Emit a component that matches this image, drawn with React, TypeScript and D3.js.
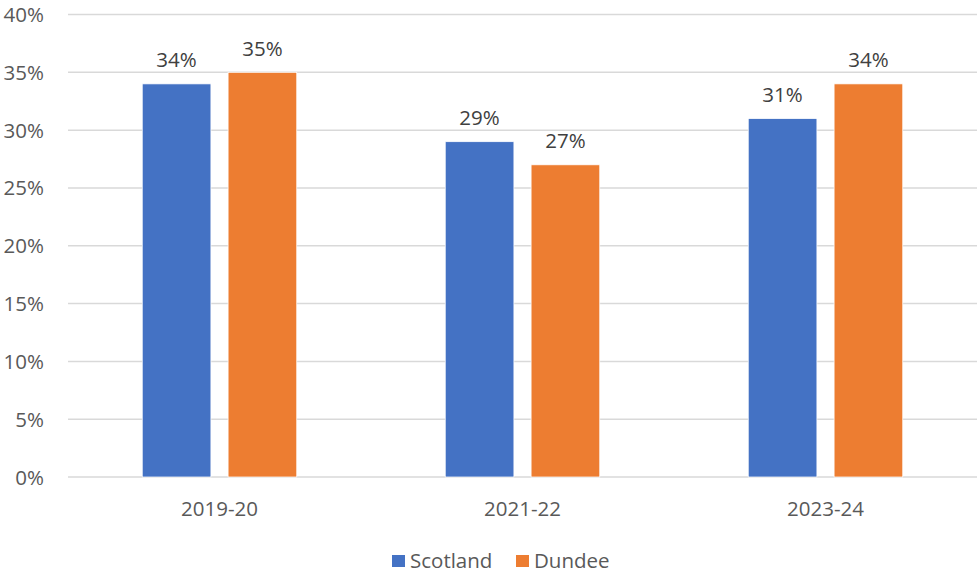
import React from "react";
import * as d3 from "d3";

const categories = ["2019-20", "2021-22", "2023-24"];
const seriesNames = ["Scotland", "Dundee"];
const scotland = [34, 29, 31];
const dundee = [35, 27, 34];
const yTicks = [0, 5, 10, 15, 20, 25, 30, 35, 40];
const colors = ["#4472C4", "#ED7D31"];

const W = 977;
const H = 575;
const left = 68;
const right = 977;
const top = 14.5;
const bottom = 477;
const font = "'Open Sans', 'Liberation Sans', sans-serif";
const fs = 20.5;

export default function App() {
  const x0 = d3.scaleBand<string>().domain(categories).range([left, right]);
  const bw = x0.bandwidth();
  const groupW = bw * 0.51;
  const x1 = d3
    .scaleBand<string>()
    .domain(seriesNames)
    .range([(bw - groupW) / 2, (bw + groupW) / 2])
    .paddingInner(0.2)
    .paddingOuter(0);
  const y = d3.scaleLinear().domain([0, 40]).range([bottom, top]);
  const seriesValues = [scotland, dundee];

  return (
    <svg width={W} height={H} style={{ position: "absolute", left: 0, top: 0, background: "#fff" }}>
      {yTicks.map((t) => (
        <g key={t}>
          <line x1={left} x2={right} y1={y(t)} y2={y(t)} stroke="#d9d9d9" strokeWidth={1.5} />
          <text x={44} y={y(t) + 7.5} textAnchor="end" fontFamily={font} fontSize={fs} fill="#595959">
            {t}%
          </text>
        </g>
      ))}
      {categories.map((c, i) => (
        <g key={c} transform={`translate(${x0(c)},0)`}>
          {seriesNames.map((s, j) => {
            const v = seriesValues[j][i];
            const bx = x1(s)!;
            return (
              <g key={s}>
                <rect
                  x={bx}
                  y={y(v)}
                  width={x1.bandwidth()}
                  height={bottom - y(v)}
                  fill={colors[j]}
                  stroke="#fff"
                  strokeWidth={0.75}
                />
                <text
                  x={bx + x1.bandwidth() / 2}
                  y={y(v) - 16.5}
                  textAnchor="middle"
                  fontFamily={font}
                  fontSize={fs}
                  fill="#404040"
                >
                  {v}%
                </text>
              </g>
            );
          })}
          <text x={bw / 2} y={515.5} textAnchor="middle" fontFamily={font} fontSize={fs} fill="#595959">
            {c}
          </text>
        </g>
      ))}
      {seriesNames.map((s, j) => {
        const lx = [392, 516][j];
        return (
          <g key={s}>
            <rect x={lx} y={555} width={13} height={12} fill={colors[j]} />
            <text x={lx + 18} y={567.5} fontFamily={font} fontSize={fs} fill="#595959">
              {s}
            </text>
          </g>
        );
      })}
    </svg>
  );
}
